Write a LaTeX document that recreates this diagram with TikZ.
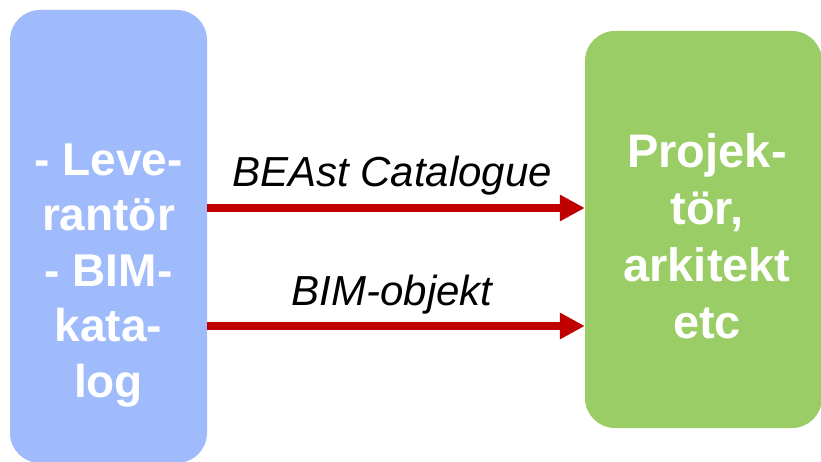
\documentclass[tikz,border=0pt]{standalone}
\usepackage{fontspec}
\setmainfont{Liberation Sans}
\usetikzlibrary{arrows.meta,positioning}

\definecolor{catblue}{RGB}{160,187,251}
\definecolor{usergreen}{RGB}{154,205,101}
\definecolor{flowred}{RGB}{192,0,0}

\begin{document}
\begin{tikzpicture}[x=1pt,y=-1pt,
  party/.style={rounded corners=30pt,inner sep=0pt},
  partytext/.style={text=white,align=center,anchor=base,
    font=\fontsize{46}{55.5}\selectfont\bfseries},
  flow/.style={draw=flowred,line width=8pt,-{Triangle[length=25pt,width=25pt]}},
  flowlabel/.style={font=\fontsize{42}{48}\selectfont\itshape,anchor=base,yshift=21pt,xshift=-4pt}]
\useasboundingbox (0,0) rectangle (821,462);
\node[party,fill=catblue,minimum width=197pt,minimum height=453pt] (lev) at (108.5,236.5) {};
\node[party,fill=usergreen,minimum width=237pt,minimum height=397pt] (proj) at (703.5,229.5) {};
\node[partytext] (levtext) at (108.5,397) {- Leve-\\rantör\\- BIM-\\kata-\\log};
\node[partytext,font=\fontsize{47}{57}\selectfont\bfseries] (projtext) at (707,338) {Projek-\\tör,\\arkitekt\\etc};
\draw[flow] (lev.east |- 0,208) -- node[flowlabel] (cat) {BEAst Catalogue} (proj.west |- 0,208);
\draw[flow] (lev.east |- 0,326) -- node[flowlabel] (obj) {BIM-objekt} (proj.west |- 0,326);
\end{tikzpicture}
\end{document}
